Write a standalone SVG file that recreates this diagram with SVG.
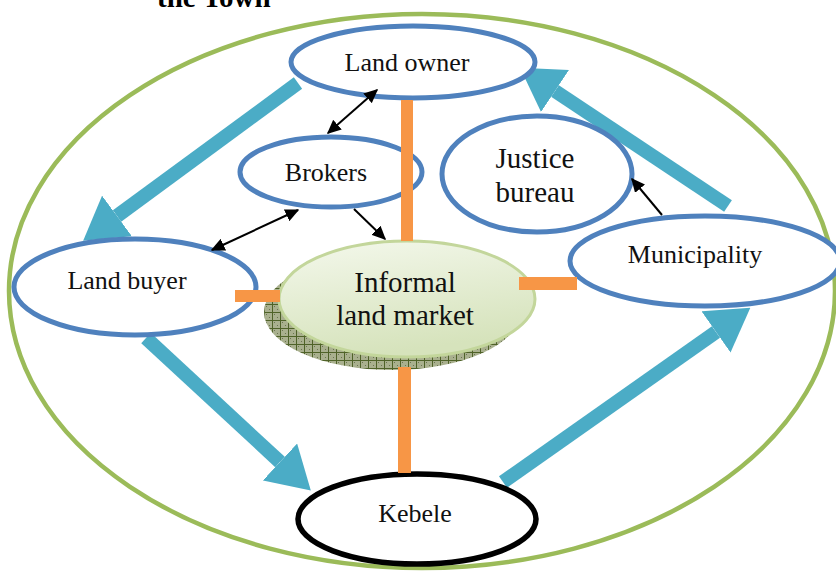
<svg xmlns="http://www.w3.org/2000/svg" width="836" height="572" viewBox="0 0 836 572">
<style>
.node{fill:#fff;stroke:#4F81BD;stroke-width:5}
.lbl{font-family:"Liberation Serif","Times New Roman",serif;font-size:26px;fill:#111;text-anchor:middle}
.big{font-size:29px}
.flow{fill:none;stroke:#4BACC6;stroke-width:14}
.thin{fill:none;stroke:#000;stroke-width:2}
.bar{fill:#F79646}
</style>
<defs>
<marker id="bigHead" viewBox="0 0 10 10" refX="0" refY="5" markerWidth="3" markerHeight="3.6" orient="auto" preserveAspectRatio="none">
<path d="M0,0 L10,5 L0,10 z" fill="#4BACC6"/>
</marker>
<marker id="head" viewBox="0 0 10 10" refX="9" refY="5" markerWidth="7" markerHeight="6.5" orient="auto-start-reverse" preserveAspectRatio="none">
<path d="M0,0 L10,5 L0,10 z" fill="#000"/>
</marker>
<pattern id="hatch" width="8" height="8" patternUnits="userSpaceOnUse">
<rect width="8" height="8" fill="#A9B08E"/>
<rect x="2" y="2" width="1" height="1" fill="#6B7550"/>
<rect x="5" y="5" width="1" height="1" fill="#6B7550"/>
<path d="M0,0.5 H8 M0.5,0 V8" stroke="#4F6228" stroke-width="1"/>
</pattern>
<linearGradient id="gMarket" x1="0" y1="0" x2="0.3" y2="1">
<stop offset="0" stop-color="#F4F8EC"/>
<stop offset="1" stop-color="#D6E3BC"/>
</linearGradient>
</defs>

<text x="157" y="7" style="font-family:'Liberation Serif','Times New Roman',serif;font-size:29px;font-weight:bold;fill:#000">the Town</text>

<g id="town">
<ellipse cx="422" cy="291" rx="413" ry="277" fill="none" stroke="#9BBB59" stroke-width="4.5"/>
</g>

<g id="connectors">
<path class="flow" d="M298,83 L117,216" marker-end="url(#bigHead)"/>
<path class="flow" d="M146,338 L280,462" marker-end="url(#bigHead)"/>
<path class="flow" d="M503,482 L716,332" marker-end="url(#bigHead)"/>
<path class="flow" d="M728,206 L555,91" marker-end="url(#bigHead)"/>
</g>

<g id="land-owner">
<ellipse class="node" cx="413" cy="62" rx="122" ry="36"/>
<text class="lbl" x="407" y="71">Land owner</text>
</g>
<g id="brokers">
<ellipse class="node" cx="331" cy="172" rx="91" ry="35"/>
<text class="lbl" x="326" y="181">Brokers</text>
</g>
<g id="justice-bureau">
<ellipse class="node" cx="537" cy="174" rx="95" ry="58"/>
<text class="lbl big" x="535" y="168">Justice</text>
<text class="lbl big" x="535" y="202">bureau</text>
</g>
<g id="municipality">
<ellipse class="node" cx="705" cy="261" rx="135" ry="45"/>
<text class="lbl" x="695" y="263">Municipality</text>
</g>
<g id="land-buyer">
<ellipse class="node" cx="135" cy="287" rx="121" ry="48"/>
<text class="lbl" x="127" y="289">Land buyer</text>
</g>
<g id="informal-market">
<ellipse cx="392" cy="312" rx="128" ry="58" fill="url(#hatch)"/>
<ellipse cx="407" cy="299" rx="128" ry="58" fill="url(#gMarket)" stroke="#C3D69B" stroke-width="3"/>
<text class="lbl big" x="405" y="292">Informal</text>
<text class="lbl big" x="405" y="325">land market</text>
</g>
<g id="kebele">
<ellipse cx="417" cy="519" rx="119" ry="45" fill="#fff" stroke="#000" stroke-width="5.5"/>
<text class="lbl" x="415" y="522">Kebele</text>
</g>

<g id="links">
<rect class="bar" x="401" y="100" width="12" height="141"/>
<rect class="bar" x="235" y="290" width="45" height="12"/>
<rect class="bar" x="519" y="277" width="58" height="13"/>
<rect class="bar" x="398" y="367" width="13" height="106"/>
<path class="thin" d="M377,90 L328,133" marker-start="url(#head)" marker-end="url(#head)"/>
<path class="thin" d="M298,210 L212,250" marker-start="url(#head)" marker-end="url(#head)"/>
<path class="thin" d="M354,209 L385,239" marker-end="url(#head)"/>
<path class="thin" d="M662,215 L632,179" marker-end="url(#head)"/>
</g>
</svg>
